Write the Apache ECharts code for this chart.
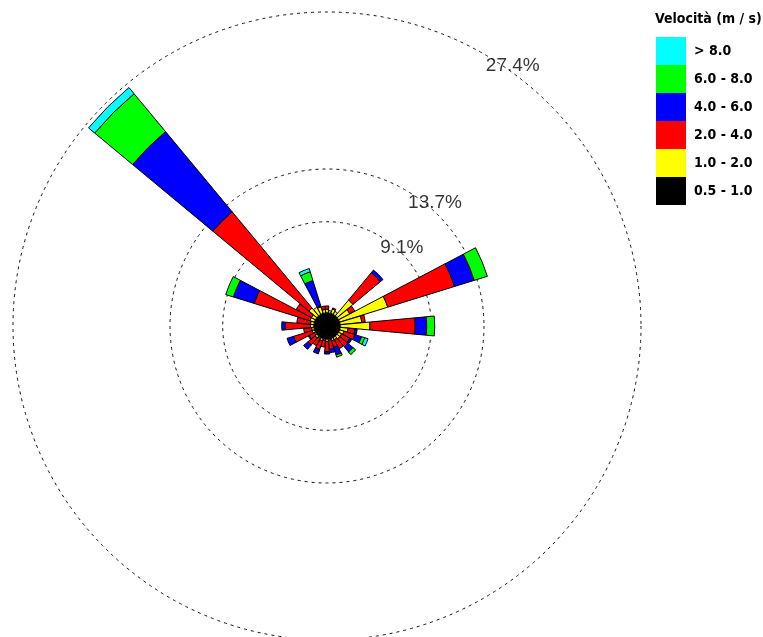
<!DOCTYPE html>
<html>
<head>
<meta charset="utf-8">
<script src="https://cdn.jsdelivr.net/npm/echarts@6/dist/echarts.min.js"></script>
<style>
html,body{margin:0;padding:0;background:#fff;}
#chart{width:763px;height:637px;}
</style>
</head>
<body>
<div id="chart"></div>
<script>
// 32 wind directions, starting at North, clockwise
const directions = ['N','NbE','NNE','NEbN','NE','NEbE','ENE','EbN','E','EbS','ESE','SEbE','SE','SEbS','SSE','SbE',
                    'S','SbW','SSW','SWbS','SW','SWbW','WSW','WbS','W','WbN','WNW','NWbW','NW','NWbN','NNW','NbW'];

// frequency (%) of each speed class per direction (stacked outward from the centre)
const v05_10 = [1.15,1.15,1.15,1.15,1.15,1.15,1.15,1.15,1.15,1.15,1.15,1.15,1.15,1.15,1.15,1.15,
                1.15,1.15,1.15,1.15,1.15,1.15,1.15,1.15,1.15,1.15,1.15,1.15,1.15,1.15,1.15,1.15];
const v10_20 = [0.3,0.2,0.4,0.3,1.8,1.1,4.4,1.9,2.6,0.7,0.4,0.3,0.3,0.2,0.2,0.1,
                0.2,0.1,0.2,0.1,0.2,0.1,0.2,0.2,0.3,0.3,0.4,0.4,0.9,0.7,0.6,0.3];
const v20_40 = [0.3,0,0.1,0,3.1,0.5,6.1,0.3,3.95,0.6,1.0,0.8,0.9,0.9,0.6,0.8,
                0.9,0.6,0.8,0.7,0.8,0.5,1.7,0.7,2.2,1.2,5.1,1.5,10.9,0,0.1,0.3];
const v40_60 = [0,0,0,0,0.3,0,1.8,0,1.0,0.2,0.6,0.2,0.6,0,0.7,0.3,
                0.2,0,0.4,0,0.5,0.1,0.6,0,0.3,0,1.9,0,9.1,0,2.3,0];
const v60_80 = [0,0,0,0,0,0,1.2,0,0.7,0,0.3,0,0.3,0,0.2,0,
                0,0,0,0,0,0,0,0,0,0,0.7,0,4.3,0,0.8,0];
const v80    = [0,0,0,0,0,0,0,0,0,0,0.3,0,0,0,0,0,
                0,0,0,0,0,0,0,0,0,0,0,0,0.7,0,0.3,0];

// speed class names (inner to outer) and ring values (%)
const classNames = ['0.5 - 1.0','1.0 - 2.0','2.0 - 4.0','4.0 - 6.0','6.0 - 8.0','> 8.0'];
const classData  = [v05_10, v10_20, v20_40, v40_60, v60_80, v80];
const rings = [9.1, 13.7, 27.4];

// style/layout
const classColors = ['#000000','#ffff00','#ff0000','#0000ff','#00ff00','#00ffff'];
const ringLabelBearings = [43.5, 41, 35.6];
const ringLabelOffsets = [[3, -3], [5, -5], [3, -5]];
const CENTER = [327, 326];
const RADIUS = 314;
const condensed = '"DejaVu Sans Condensed", "Liberation Sans Narrow", "Arial Narrow", sans-serif';

const chart = echarts.init(document.getElementById('chart'), null, {renderer: 'canvas'});

const barSeries = classNames.map((name, k) => ({
  name: name,
  type: 'bar',
  coordinateSystem: 'polar',
  polarIndex: 0,
  stack: 'rose',
  barCategoryGap: '6%',
  data: classData[k].map(v => v > 0 ? v : '-'),
  itemStyle: {color: classColors[k], borderColor: '#000', borderWidth: 1},
  emphasis: {disabled: true},
  animation: false
}));

const option = {
  backgroundColor: '#fff',
  animation: false,
  title: {
    text: 'Velocità (m / s)',
    left: 650, top: 7,
    textStyle: {fontFamily: condensed, fontWeight: 'bold', fontSize: 14, color: '#000'}
  },
  legend: {
    orient: 'vertical',
    left: 651, top: 32,
    itemWidth: 30, itemHeight: 28, itemGap: 0,
    icon: 'rect',
    selectedMode: false,
    data: classNames.slice().reverse(),
    itemStyle: {borderWidth: 0},
    textStyle: {fontFamily: condensed, fontWeight: 'bold', fontSize: 14, color: '#000', padding: [0,0,0,3]}
  },
  polar: [
    {center: CENTER, radius: RADIUS},
    {center: CENTER, radius: RADIUS}
  ],
  angleAxis: [
    {
      polarIndex: 0, type: 'category', data: directions,
      startAngle: 90 + 180 / directions.length, clockwise: true,
      axisLine: {show: false}, axisTick: {show: false}, axisLabel: {show: false},
      splitLine: {show: false}
    },
    {
      polarIndex: 1, type: 'value', min: 0, max: 360, startAngle: 90, clockwise: true,
      axisLine: {show: false}, axisTick: {show: false}, axisLabel: {show: false},
      splitLine: {show: false}
    }
  ],
  radiusAxis: [
    {
      polarIndex: 0, type: 'value', min: 0, max: rings[rings.length - 1],
      axisLine: {show: false},
      axisTick: {show: false, customValues: rings},
      axisLabel: {show: false, customValues: rings},
      splitLine: {show: true, lineStyle: {color: '#111', width: 1, type: [3, 4]}}
    },
    {
      polarIndex: 1, type: 'value', min: 0, max: rings[rings.length - 1],
      axisLine: {show: false}, axisTick: {show: false}, axisLabel: {show: false},
      splitLine: {show: false}
    }
  ],
  series: barSeries.concat([{
    type: 'scatter',
    coordinateSystem: 'polar',
    polarIndex: 1,
    symbolSize: 0,
    silent: true,
    data: rings.map((r, i) => ({
      value: [r, ringLabelBearings[i]],
      label: {offset: ringLabelOffsets[i]}
    })),
    label: {
      show: true, position: 'inside',
      formatter: p => p.value[0] + '%',
      fontFamily: '"Liberation Sans", Arial, sans-serif',
      fontSize: 19, color: '#000'
    }
  }])
};

chart.setOption(option);
</script>
</body>
</html>
